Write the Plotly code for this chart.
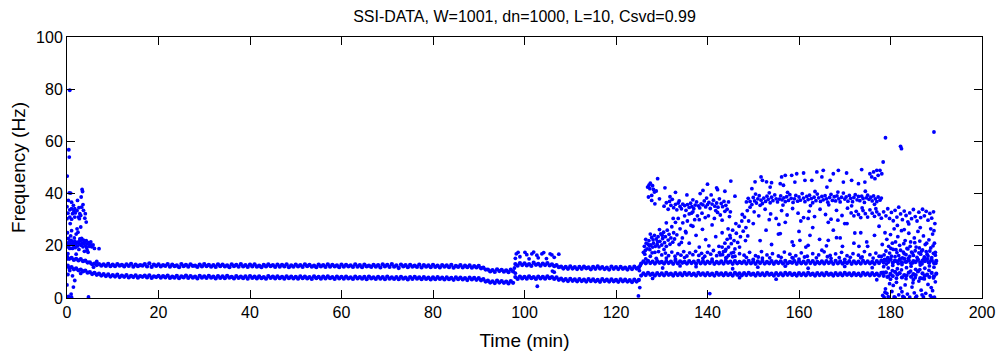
import plotly.graph_objects as go

# ---------------- data ----------------
# regular window times (min) for the two dominant modal bands
BAND_T = [0, 1, 2, 3, 4, 5, 6, 7, 8, 9,
          10, 11, 12, 13, 14, 15, 16, 17, 18, 19,
          20, 21, 22, 23, 24, 25, 26, 27, 28, 29,
          30, 31, 32, 33, 34, 35, 36, 37, 38, 39,
          40, 41, 42, 43, 44, 45, 46, 47, 48, 49,
          50, 51, 52, 53, 54, 55, 56, 57, 58, 59,
          60, 61, 62, 63, 64, 65, 66, 67, 68, 69,
          70, 71, 72, 73, 74, 75, 76, 77, 78, 79,
          80, 81, 82, 83, 84, 85, 86, 87, 88, 89,
          90, 91, 92, 93, 94, 95, 96, 97, 98, 99,
          100, 101, 102, 103, 104, 105, 106, 107, 108, 109,
          110, 111, 112, 113, 114, 115, 116, 117, 118, 119,
          120, 121, 122, 123, 124, 125, 126, 127, 128, 129,
          130, 131, 132, 133, 134, 135, 136, 137, 138, 139,
          140, 141, 142, 143, 144, 145, 146, 147, 148, 149,
          150, 151, 152, 153, 154, 155, 156, 157, 158, 159,
          160, 161, 162, 163, 164, 165, 166, 167, 168, 169,
          170, 171, 172, 173, 174, 175, 176, 177, 178, 179,
          180, 181, 182, 183, 184, 185, 186, 187, 188, 189, 190]

BAND_T_HALF = [0.5, 1.5, 2.5, 3.5, 4.5, 5.5, 6.5, 7.5, 8.5, 9.5,
               10.5, 11.5, 12.5, 13.5, 14.5, 15.5, 16.5, 17.5, 18.5, 19.5,
               20.5, 21.5, 22.5, 23.5, 24.5, 25.5, 26.5, 27.5, 28.5, 29.5,
               30.5, 31.5, 32.5, 33.5, 34.5, 35.5, 36.5, 37.5, 38.5, 39.5,
               40.5, 41.5, 42.5, 43.5, 44.5, 45.5, 46.5, 47.5, 48.5, 49.5,
               50.5, 51.5, 52.5, 53.5, 54.5, 55.5, 56.5, 57.5, 58.5, 59.5,
               60.5, 61.5, 62.5, 63.5, 64.5, 65.5, 66.5, 67.5, 68.5, 69.5,
               70.5, 71.5, 72.5, 73.5, 74.5, 75.5, 76.5, 77.5, 78.5, 79.5,
               80.5, 81.5, 82.5, 83.5, 84.5, 85.5, 86.5, 87.5, 88.5, 89.5,
               90.5, 91.5, 92.5, 93.5, 94.5, 95.5, 96.5, 97.5, 98.5, 99.5,
               100.5, 101.5, 102.5, 103.5, 104.5, 105.5, 106.5, 107.5, 108.5, 109.5,
               110.5, 111.5, 112.5, 113.5, 114.5, 115.5, 116.5, 117.5, 118.5, 119.5,
               120.5, 121.5, 122.5, 123.5, 124.5, 125.5, 126.5, 127.5, 128.5, 129.5,
               130.5, 131.5, 132.5, 133.5, 134.5, 135.5, 136.5, 137.5, 138.5, 139.5,
               140.5, 141.5, 142.5, 143.5, 144.5, 145.5, 146.5, 147.5, 148.5, 149.5,
               150.5, 151.5, 152.5, 153.5, 154.5, 155.5, 156.5, 157.5, 158.5, 159.5,
               160.5, 161.5, 162.5, 163.5, 164.5, 165.5, 166.5, 167.5, 168.5, 169.5,
               170.5, 171.5, 172.5, 173.5, 174.5, 175.5, 176.5, 177.5, 178.5, 179.5,
               180.5, 181.5, 182.5, 183.5, 184.5, 185.5, 186.5, 187.5, 188.5, 189.5]

# upper mode (Hz), two rows of estimates per band
UPPER_A = [15.8, 15.4, 15.0, 14.9, 14.3, 13.6, 13.2, 13.0, 12.9, 13.1,
           12.8, 13.0, 12.7, 12.9, 13.1, 12.8, 12.6, 13.0, 13.3, 12.8,
           12.9, 12.6, 13.0, 12.8, 12.5, 13.0, 12.7, 12.9, 12.4, 12.8,
           13.0, 12.7, 12.6, 12.9, 12.8, 12.5, 12.9, 12.7, 13.0, 12.6,
           12.8, 12.9, 12.4, 12.7, 12.9, 12.6, 12.8, 12.7, 12.9, 12.5,
           12.8, 12.6, 12.9, 12.7, 12.4, 12.8, 12.6, 12.9, 12.7, 12.5,
           12.8, 12.7, 12.5, 12.9, 12.6, 12.8, 12.4, 12.7, 12.6, 12.9,
           12.7, 13.0, 12.5, 12.8, 12.6, 12.7, 12.4, 12.8, 12.6, 12.5,
           12.7, 12.4, 12.6, 12.5, 12.7, 12.3, 12.6, 12.4, 12.5, 12.2,
           12.3, 11.6, 10.9, 10.7, 11.0, 10.8, 10.6, 10.9, 13.0, 13.4,
           13.3, 13.0, 13.5, 13.1, 13.2, 13.4, 12.9, 12.6, 12.0, 11.9,
           12.1, 11.8, 11.9, 12.0, 11.7, 11.9, 12.1, 11.8, 11.6, 12.0,
           11.8, 11.9, 11.6, 11.8, 12.0, 11.7, 14.0, 14.2, 13.9, 14.1,
           13.8, 14.1, 13.9, 14.2, 14.0, 13.8, 14.1, 13.9, 14.2, 14.0,
           13.9, 14.1, 13.8, 14.0, 14.2, 13.9, 14.1, 13.8, 14.0, 14.2,
           13.9, 14.0, 14.2, 13.8, 14.1, 13.9, 14.0, 14.2, 13.8, 14.1,
           14.0, 13.9, 14.2, 14.1, 13.8, 14.0, 14.1, 13.9, 14.2, 14.0,
           13.8, 14.1, 14.0, 13.9, 14.2, 14.0, 13.8, 14.1, 14.3, 14.5,
           14.8, 14.2, 14.6, 15.0, 14.4, 14.1, 14.7, 14.3, 14.9, 14.5, 14.2]

UPPER_B = [15.0, 14.6, 14.4, 14.1, 13.6, 12.9, 12.6, 12.4, 12.3, 12.2,
           12.2, 12.4, 12.1, 12.3, 12.0, 12.2, 12.4, 12.1, 11.9, 12.3,
           12.1, 12.3, 12.0, 12.2, 11.8, 12.2, 12.0, 12.3, 11.9, 12.1,
           12.2, 12.0, 11.9, 12.2, 12.1, 11.8, 12.2, 12.0, 12.1, 11.9,
           12.1, 12.0, 11.8, 12.1, 12.2, 11.9, 12.0, 12.1, 11.8, 12.0,
           12.1, 11.9, 12.2, 12.0, 11.8, 12.1, 11.9, 12.0, 12.1, 11.8,
           12.0, 12.1, 11.9, 12.0, 11.8, 12.1, 11.9, 12.0, 11.7, 12.1,
           11.9, 12.0, 11.5, 12.1, 11.8, 12.0, 11.9, 11.7, 12.0, 11.8,
           11.9, 11.7, 12.0, 11.8, 11.6, 11.9, 11.7, 11.8, 11.6, 11.7,
           11.4, 10.9, 10.2, 10.0, 10.3, 10.1, 9.9, 10.2, 12.4, 12.6,
           12.5, 12.3, 12.7, 12.4, 12.6, 12.5, 12.2, 11.8, 11.3, 11.2,
           11.3, 11.1, 11.2, 11.4, 11.0, 11.2, 11.3, 11.1, 10.9, 11.2,
           11.1, 11.2, 10.9, 11.1, 11.3, 13.2, 13.3, 13.4, 13.2, 13.5,
           13.2, 13.4, 13.1, 13.3, 13.5, 13.2, 13.4, 13.1, 13.3, 13.2,
           13.4, 13.1, 13.3, 13.2, 13.5, 13.1, 13.3, 13.4, 13.2, 13.3,
           13.1, 13.4, 13.2, 13.3, 13.1, 13.4, 13.2, 13.3, 13.5, 13.1,
           13.3, 13.2, 13.4, 13.1, 13.3, 13.2, 13.4, 13.1, 13.3, 13.2,
           13.4, 13.1, 13.3, 13.2, 13.4, 13.3, 13.1, 13.4, 13.6, 13.8,
           13.5, 14.0, 13.6, 13.9, 13.3, 13.8, 13.5, 14.1, 13.7, 13.4]

# lower mode (Hz)
LOWER_A = [12.2, 11.8, 11.3, 10.9, 10.5, 9.9, 9.6, 9.3, 9.1, 9.0,
           8.8, 8.9, 8.6, 8.8, 8.5, 8.7, 8.4, 8.6, 8.7, 8.3,
           8.5, 8.4, 8.6, 8.2, 8.5, 8.3, 8.6, 8.4, 8.2, 8.5,
           8.3, 8.5, 8.2, 8.4, 8.3, 8.5, 8.1, 8.4, 8.2, 8.3,
           8.4, 8.2, 8.3, 8.0, 8.4, 8.2, 8.3, 8.1, 8.3, 8.2,
           8.1, 8.3, 8.2, 8.0, 8.3, 8.1, 8.2, 8.3, 8.0, 8.2,
           8.1, 8.2, 7.9, 8.2, 8.0, 8.1, 8.2, 7.9, 8.1, 8.0,
           8.2, 7.9, 8.0, 8.1, 7.8, 8.0, 8.1, 7.9, 8.0, 7.8,
           7.9, 8.0, 7.8, 7.9, 7.7, 7.9, 7.8, 7.6, 7.8, 7.7,
           7.6, 7.2, 6.6, 6.4, 6.6, 6.5, 6.3, 6.5, 8.0, 8.2,
           8.1, 8.3, 8.0, 8.2, 8.1, 8.3, 8.0, 7.9, 7.4, 7.2,
           7.3, 7.1, 7.2, 7.0, 7.2, 7.1, 6.9, 7.2, 7.0, 7.1,
           6.9, 7.1, 7.0, 6.8, 7.0, 6.9, 9.4, 9.6, 9.3, 9.5,
           9.4, 9.6, 9.3, 9.5, 9.4, 9.6, 9.5, 9.3, 9.6, 9.4,
           9.5, 9.3, 9.6, 9.4, 9.5, 9.3, 9.6, 9.4, 9.5, 9.6,
           9.3, 9.5, 9.4, 9.6, 9.3, 9.5, 9.4, 9.6, 9.5, 9.3,
           9.5, 9.4, 9.6, 9.3, 9.5, 9.4, 9.6, 9.3, 9.5, 9.4,
           9.6, 9.4, 9.5, 9.3, 9.6, 9.4, 9.5, 9.3, 9.6, 9.8,
           9.2, 10.0, 9.5, 8.8, 9.7, 9.1, 10.2, 9.4, 8.9, 9.6, 9.3]

LOWER_B = [11.5, 11.0, 10.6, 10.2, 9.7, 9.2, 8.9, 8.6, 8.4, 8.2,
           8.2, 8.0, 8.1, 7.9, 8.0, 7.8, 8.1, 7.9, 7.7, 8.0,
           7.8, 7.9, 7.7, 7.8, 7.6, 7.9, 7.7, 7.8, 7.5, 7.8,
           7.7, 7.8, 7.5, 7.7, 7.6, 7.8, 7.5, 7.7, 7.6, 7.4,
           7.7, 7.5, 7.6, 7.4, 7.7, 7.5, 7.6, 7.4, 7.6, 7.5,
           7.4, 7.6, 7.5, 7.3, 7.6, 7.4, 7.5, 7.6, 7.3, 7.5,
           7.4, 7.5, 7.3, 7.5, 7.4, 7.2, 7.5, 7.3, 7.4, 7.2,
           7.4, 7.3, 7.2, 7.4, 7.1, 7.3, 7.4, 7.2, 7.3, 7.1,
           7.2, 7.3, 7.1, 7.2, 7.0, 7.2, 7.1, 6.9, 7.1, 7.0,
           6.8, 6.3, 5.9, 5.7, 5.9, 5.8, 5.6, 5.8, 7.3, 7.5,
           7.4, 7.6, 7.3, 7.5, 7.4, 7.6, 7.3, 7.0, 6.7, 6.5,
           6.6, 6.4, 6.5, 6.3, 6.5, 6.4, 6.2, 6.5, 6.3, 6.4,
           6.2, 6.4, 6.3, 6.1, 6.3, 8.6, 8.8, 8.9, 8.6, 8.8,
           8.7, 8.9, 8.6, 8.8, 8.7, 8.9, 8.8, 8.6, 8.9, 8.7,
           8.8, 8.6, 8.9, 8.7, 8.8, 8.6, 8.9, 8.7, 8.8, 8.9,
           8.6, 8.8, 8.7, 8.9, 8.6, 8.8, 8.7, 8.9, 8.8, 8.6,
           8.8, 8.7, 8.9, 8.6, 8.8, 8.7, 8.9, 8.6, 8.8, 8.7,
           8.9, 8.7, 8.8, 8.6, 8.9, 8.7, 8.8, 8.6, 8.5, 8.2,
           8.4, 9.0, 7.9, 8.6, 8.1, 8.8, 7.6, 8.5, 8.0, 8.3]

# scattered identifications, (time min, frequency Hz)
EARLY_PTS = [(0.6, 79.6), (0.4, 56.8), (0.5, 54.0), (0.05, 46.7), (0.5, 40.3), (3.3, 41.6), (3.1, 38.7),
             (0.3, 37.4), (1.0, 36.7), (0.6, 31.0), (0.0, 30.4), (1.7, 34.2), (1.2, 32.3), (2.3, 37.4),
             (2.8, 32.3), (2.7, 30.4), (3.4, 40.8), (3.6, 33.6), (4.0, 32.3), (4.2, 29.1), (2.5, 31.0),
             (1.7, 31.0), (0.7, 28.5), (1.0, 34.2), (1.5, 33.3), (3.2, 34.8), (0.8, 40.2), (0.0, 35.0),
             (0.1, 21.0), (0.3, 20.3), (0.5, 21.6), (0.7, 20.8), (0.9, 22.1), (1.1, 20.5), (1.3, 21.3),
             (1.5, 20.1), (1.7, 21.8), (1.9, 20.7), (2.1, 21.2), (2.3, 19.9), (2.5, 21.5), (2.7, 20.6),
             (2.9, 21.9), (3.1, 20.2), (3.3, 21.1), (3.5, 19.6), (3.7, 20.9), (3.9, 21.4), (4.1, 20.0),
             (4.3, 19.3), (4.5, 20.7), (4.7, 21.2), (4.9, 19.8), (5.1, 20.4), (5.4, 19.6), (5.7, 20.3),
             (6.0, 19.0), (7.0, 18.9), (4.4, 18.3), (3.8, 17.9), (4.6, 17.5), (1.6, 23.0), (2.0, 24.5),
             (2.4, 25.2), (0.8, 23.8), (3.2, 22.8), (1.2, 19.0), (0.4, 19.4), (2.6, 18.6), (1.0, 25.8),
             (2.2, 26.5), (3.0, 27.2), (0.2, 17.0), (0.3, 0.6), (1.4, 4.2), (1.7, 6.7), (4.7, 0.4),
             (0.9, 1.5), (1.2, 8.5), (0.2, 9.0), (0.6, 10.5), (3.4, 10.3), (1.0, 0.3), (0.0, 5.0),
             (6.5, 14.0), (5.8, 11.8), (2.0, 16.8), (3.0, 9.4),
             (0.2, 32.5), (0.6, 33.8), (1.0, 30.2), (1.4, 35.5), (1.8, 32.6), (2.2, 33.5), (2.6, 34.6),
             (3.0, 31.6), (3.5, 35.8), (3.9, 30.6), (0.3, 22.8), (0.6, 19.0), (1.8, 19.3), (2.8, 22.6),
             (3.6, 22.2), (4.2, 22.0), (5.2, 21.5), (0.1, 15.0), (0.2, 12.5), (0.1, 25.0)]

MID_PTS = [(98.2, 16.9), (98.6, 17.5), (100.1, 17.5), (100.5, 16.6), (101.6, 16.9), (102.0, 17.6),
           (102.7, 16.4), (103.8, 16.9), (104.2, 17.4), (105.6, 16.9), (106.0, 16.5), (98.0, 15.2),
           (99.0, 15.8), (101.0, 15.0), (103.0, 15.4), (104.8, 15.1), (106.5, 15.6), (102.8, 4.5),
           (106.1, 10.3), (106.5, 9.9), (98.0, 9.5), (97.8, 11.5), (107.5, 16.8),
           (124.9, 0.8), (125.2, 4.0), (125.1, 10.5), (125.3, 12.5), (140.5, 1.7)]

RISE_PTS = [(127.2, 43.2), (127.4, 41.9), (128.2, 41.6), (127.8, 39.3), (128.4, 40.6), (129.1, 45.7),
            (127.1, 38.7), (127.8, 37.4), (128.5, 36.1), (126.9, 42.5), (128.0, 43.0), (128.8, 41.0),
            (127.5, 44.0), (129.5, 38.0),
            (126.0, 17.5), (126.2, 19.8), (126.4, 18.2), (126.6, 21.0), (126.8, 18.8), (127.0, 20.6),
            (127.2, 22.0), (127.4, 18.5), (127.6, 20.3), (127.8, 23.2), (128.0, 19.5), (128.2, 21.0),
            (128.4, 24.0), (128.6, 19.8), (128.8, 22.6), (129.0, 20.5), (129.2, 23.5), (129.4, 19.6),
            (129.6, 21.7), (129.8, 24.6), (130.0, 20.3), (130.2, 22.8), (130.4, 25.2), (130.6, 21.2),
            (130.8, 23.5), (131.0, 19.8), (131.2, 26.0), (131.4, 22.2), (131.6, 24.4), (131.8, 20.6),
            (132.0, 23.0), (132.2, 27.3), (132.4, 21.4), (132.6, 25.0), (132.8, 22.6), (133.0, 29.0),
            (133.3, 24.2), (133.6, 30.5), (134.0, 26.5), (134.3, 21.3), (134.6, 28.8), (135.0, 31.5),
            (135.3, 25.0), (135.6, 29.5), (136.0, 32.2), (136.4, 27.8), (136.8, 33.0), (137.2, 30.0),
            (126.5, 22.5), (127.5, 24.5), (128.5, 17.5), (129.5, 26.2), (130.5, 18.6), (126.3, 16.8),
            (127.9, 17.3), (129.3, 17.8), (128.1, 22.3), (129.1, 21.6), (130.1, 24.0), (127.3, 19.9),
            (142.8, 16.5), (143.2, 19.5), (143.5, 17.8), (143.8, 21.0), (144.0, 18.6), (144.3, 22.5),
            (144.6, 19.5), (144.9, 24.0), (145.2, 20.8), (145.5, 26.0), (145.8, 22.0), (146.0, 18.8),
            (146.3, 24.8), (146.6, 21.3), (146.9, 27.5), (147.2, 23.5), (147.5, 29.5), (147.8, 25.6),
            (148.1, 31.0), (148.4, 27.0), (148.7, 33.5), (149.0, 29.5), (149.3, 34.8), (145.0, 23.0),
            (146.2, 28.5), (147.0, 19.5), (147.6, 32.0), (148.3, 22.0), (144.5, 26.5), (145.7, 17.5)]

BAND35_PTS = [(130.5, 35.2), (131.0, 36.5), (131.4, 34.0), (131.8, 38.8), (132.0, 35.5), (132.3, 37.8),
              (132.6, 34.6), (133.0, 35.9), (133.3, 33.8), (133.6, 36.4), (134.0, 35.1), (134.3, 34.2),
              (134.6, 36.0), (135.0, 35.4), (135.3, 33.6), (135.6, 35.8), (136.0, 34.7), (136.3, 36.3),
              (136.6, 35.0), (137.0, 34.2), (137.3, 35.6), (137.6, 36.8), (138.0, 35.3), (138.3, 34.5),
              (138.6, 36.1), (139.0, 35.7), (139.3, 37.2), (139.6, 34.9), (140.0, 35.8), (140.3, 36.6),
              (140.6, 34.3), (141.0, 36.0), (141.3, 37.5), (141.6, 35.2), (142.0, 36.4), (142.3, 34.8),
              (142.6, 38.0), (143.0, 36.2), (143.3, 35.0), (143.6, 37.0), (144.0, 35.5), (144.3, 34.0),
              (131.7, 37.0), (133.8, 37.2), (136.8, 37.6), (139.8, 38.3), (141.8, 33.5), (143.8, 33.2),
              (140.8, 39.5), (138.8, 32.5), (137.8, 31.5), (142.8, 31.8), (144.6, 36.8), (145.0, 33.0),
              (139.5, 30.8), (141.5, 30.5), (143.2, 29.8), (136.5, 32.5), (138.2, 30.0), (140.2, 31.5),
              (142.2, 32.8), (144.8, 31.2),
              (130.7, 42.2), (138.4, 40.0), (140.0, 43.6), (142.0, 42.2), (142.2, 41.5), (143.8, 40.9),
              (145.1, 44.8), (133.0, 40.5), (135.5, 39.5), (139.0, 41.2), (146.0, 39.0)]

BAND38_PTS = [(148.5, 36.8), (148.9, 38.2), (149.3, 37.0), (149.7, 35.8), (150.0, 38.5), (150.3, 37.2),
              (150.7, 36.4), (151.0, 38.0), (151.3, 39.2), (151.7, 37.5), (152.0, 36.2), (152.3, 38.3),
              (152.7, 37.0), (153.0, 39.0), (153.3, 37.8), (153.7, 36.5), (154.0, 38.6), (154.3, 37.3),
              (154.7, 39.5), (155.0, 38.0), (155.3, 36.8), (155.7, 37.9), (156.0, 39.1), (156.3, 37.6),
              (156.7, 38.4), (157.0, 36.9), (157.3, 38.8), (157.7, 37.4), (158.0, 39.6), (158.3, 38.2),
              (158.7, 36.6), (159.0, 38.0), (159.3, 39.3), (159.7, 37.1), (160.0, 38.7), (160.3, 37.5),
              (160.7, 40.0), (161.0, 38.3), (161.3, 36.9), (161.7, 38.9), (162.0, 37.7), (162.3, 39.4),
              (162.7, 38.1), (163.0, 36.5), (163.3, 38.6), (163.7, 37.3), (164.0, 39.8), (164.3, 38.4),
              (164.7, 37.0), (165.0, 38.9), (165.3, 37.6), (165.7, 39.2), (166.0, 38.0), (166.3, 36.7),
              (166.7, 38.5), (167.0, 39.7), (167.3, 37.4), (167.7, 38.8), (168.0, 37.2), (168.3, 39.1),
              (168.7, 38.0), (169.0, 36.8), (169.3, 38.6), (169.7, 40.2), (170.0, 37.9), (170.3, 38.7),
              (170.7, 37.1), (171.0, 39.3), (171.3, 38.2), (171.7, 36.9), (172.0, 38.5), (172.3, 39.6),
              (172.7, 37.6), (173.0, 38.9), (173.3, 37.3), (173.7, 39.0), (174.0, 38.1), (174.3, 36.6),
              (174.7, 38.4), (175.0, 39.4), (175.3, 37.8), (175.7, 38.6), (176.0, 37.2), (176.3, 39.1),
              (176.7, 38.0), (177.0, 36.9), (177.3, 38.7), (177.7, 37.5), (178.0, 38.3),
              (150.5, 39.8), (153.5, 40.3), (157.5, 40.5), (163.5, 40.8), (168.5, 40.6), (174.5, 40.9),
              (151.5, 35.5), (156.5, 35.6), (162.5, 35.4), (166.5, 35.7), (171.5, 35.3), (176.5, 35.9)]

SUB32_PTS = [(150.2, 33.0), (151.2, 31.5), (152.6, 34.0), (153.8, 32.2), (155.0, 30.5), (156.2, 33.5),
             (157.4, 31.8), (158.6, 34.3), (159.8, 32.5), (161.0, 30.8), (162.2, 33.2), (163.4, 31.2),
             (164.6, 34.0), (165.8, 32.0), (167.0, 30.2), (168.2, 33.6), (169.4, 31.6), (170.6, 34.4),
             (171.4, 32.6), (172.0, 31.5), (172.5, 33.2), (173.0, 32.0), (173.5, 30.8), (174.0, 33.5),
             (174.5, 32.3), (175.0, 31.0), (175.5, 33.8), (176.0, 32.5), (176.5, 31.3), (177.0, 33.0),
             (177.5, 32.0), (178.0, 30.6), (173.8, 34.5), (176.8, 34.2), (160.4, 29.5), (166.4, 29.0),
             (170.0, 28.5), (155.6, 28.2)]

TOP_PTS = [(157.0, 47.0), (158.4, 47.0), (159.5, 47.6), (161.0, 47.9), (159.1, 44.4), (161.3, 45.1),
           (162.8, 45.1), (163.9, 48.3), (165.0, 46.4), (166.8, 45.1), (167.5, 47.6), (168.6, 48.9),
           (169.7, 44.4), (170.4, 47.9), (171.5, 45.1), (173.7, 49.2), (173.0, 43.8), (174.4, 44.4),
           (175.5, 47.6), (175.9, 46.4), (176.3, 48.3), (177.0, 48.9), (177.3, 47.0), (177.7, 48.9),
           (176.6, 45.7), (178.1, 47.6), (165.3, 48.9), (155.9, 43.8), (166.1, 42.5),
           (150.4, 44.5), (151.7, 46.4), (152.0, 45.1), (152.9, 44.5), (154.0, 44.2), (156.2, 46.4),
           (156.6, 43.2), (149.7, 41.9), (153.7, 42.5),
           (178.9, 61.4), (182.2, 58.1), (182.4, 57.2), (189.5, 63.6), (178.4, 52.1)]

SHOULDER_PTS = [(130.0, 16.5), (130.8, 17.2), (131.5, 16.2), (132.2, 17.6), (132.9, 16.0), (133.5, 17.0),
                (134.2, 16.4), (134.8, 17.8), (135.5, 16.1), (136.1, 17.3), (136.8, 16.6), (137.4, 17.9),
                (138.1, 16.3), (138.7, 17.1), (139.4, 16.0), (140.0, 17.5), (140.7, 16.8), (141.3, 18.2),
                (142.0, 16.2), (142.6, 17.4), (143.3, 16.6), (143.9, 18.0), (144.6, 16.3), (145.2, 17.2),
                (146.0, 16.0), (147.0, 17.0), (148.0, 16.4), (149.2, 17.5), (150.5, 16.2), (151.8, 17.8),
                (153.0, 16.5), (154.2, 17.0), (155.5, 16.1), (156.8, 17.6), (158.0, 16.8), (159.3, 16.2),
                (160.5, 17.3), (161.8, 16.0), (163.0, 17.0), (164.3, 16.5), (165.5, 17.7), (166.8, 16.3),
                (168.0, 16.9), (169.3, 17.5), (170.5, 16.2), (171.8, 17.0), (173.0, 16.4), (174.3, 17.8),
                (175.5, 16.6), (176.8, 17.2), (177.5, 16.0),
                (131.0, 15.3), (135.0, 15.5), (139.0, 15.2), (144.0, 15.4), (152.0, 15.3), (158.5, 15.5),
                (167.0, 15.2), (173.5, 15.4),
                (130.2, 11.5), (137.5, 12.0), (145.5, 11.2), (151.0, 11.8), (162.0, 11.4), (170.0, 12.1),
                (176.0, 11.6), (134.0, 12.3), (157.0, 12.2),
                (128.0, 7.5), (147.0, 7.8), (155.0, 7.2), (177.0, 7.0),
                (126.5, 15.0), (127.5, 16.0), (128.8, 15.2), (144.2, 15.6), (145.5, 15.8),
                (148.5, 15.6), (151.1, 15.7), (153.6, 15.4), (156.1, 15.6), (158.7, 15.3), (161.2, 15.7),
                (163.8, 15.4), (166.2, 15.8), (168.8, 15.5), (171.2, 15.6), (173.8, 15.7), (176.2, 15.3),
                (178.0, 15.9), (133.0, 14.9), (141.0, 14.9), (150.0, 14.8), (160.0, 14.9), (170.0, 14.8)]

MIDSCAT_PTS = [(131.0, 28.8), (132.5, 30.5), (133.8, 20.5), (134.5, 23.0), (135.2, 25.5), (136.0, 21.0),
               (136.8, 27.5), (137.5, 24.0), (138.2, 19.5), (138.9, 26.3), (139.6, 22.4), (140.3, 20.0),
               (141.0, 28.0), (141.8, 23.5), (142.5, 19.8), (143.2, 25.0), (150.0, 28.5), (151.5, 22.0),
               (152.8, 26.0), (154.0, 20.5), (155.5, 24.5), (157.0, 29.0), (158.5, 21.5), (160.0, 25.5),
               (161.5, 19.5), (163.0, 27.0), (164.5, 22.5), (166.0, 20.0), (167.5, 26.0), (169.0, 23.0),
               (170.5, 28.5), (172.0, 21.0), (173.5, 25.0), (175.0, 19.8), (176.5, 24.0), (177.5, 27.5),
               (148.8, 23.8), (153.5, 30.0), (162.0, 30.5), (168.5, 29.8),
               (155.9, 24.7), (158.8, 20.2), (162.4, 24.0), (166.4, 22.1), (168.2, 23.1), (169.5, 19.8),
               (172.2, 24.9), (173.1, 19.8), (174.8, 21.5), (162.0, 20.2), (165.0, 18.3), (160.2, 22.1)]

LATE_PTS = [(178.5, 33.0), (179.0, 31.5), (179.4, 34.2), (179.8, 30.5), (180.2, 32.8), (180.6, 29.6),
            (181.0, 33.6), (181.4, 31.0), (181.8, 34.8), (182.2, 32.2), (182.6, 30.0), (183.0, 33.3),
            (183.4, 31.6), (183.8, 29.2), (184.2, 32.6), (184.6, 30.4), (185.0, 33.9), (185.4, 31.2),
            (185.8, 29.5), (186.2, 32.9), (186.6, 30.8), (187.0, 34.0), (187.4, 31.5), (187.8, 33.2),
            (188.2, 29.8), (188.6, 32.4), (189.0, 30.6), (189.4, 33.0), (189.7, 28.5),
            (181.5, 27.8), (184.0, 28.4), (186.5, 27.0), (188.8, 26.5), (183.0, 26.2),
            (178.8, 25.0), (179.2, 22.5), (179.6, 19.8), (180.0, 24.3), (180.4, 21.0), (180.8, 26.5),
            (181.2, 18.5), (181.6, 23.5), (182.0, 20.2), (182.4, 25.8), (182.8, 17.6), (183.2, 22.0),
            (183.6, 19.0), (184.0, 24.8), (184.4, 21.5), (184.8, 17.2), (185.2, 23.0), (185.6, 19.5),
            (186.0, 25.5), (186.4, 21.8), (186.8, 18.0), (187.2, 23.8), (187.6, 20.5), (188.0, 16.8),
            (188.4, 22.3), (188.8, 19.2), (189.2, 24.5), (189.6, 21.0), (189.8, 17.5), (189.5, 25.8),
            (178.6, 16.5), (179.0, 18.0), (179.4, 15.5), (179.8, 17.2), (180.2, 16.0), (180.6, 18.6),
            (181.0, 15.8), (181.4, 17.4), (181.8, 16.2), (182.2, 18.3), (182.6, 15.4), (183.0, 17.0),
            (183.4, 16.6), (183.8, 18.8), (184.2, 15.9), (184.6, 17.6), (185.0, 16.3), (185.4, 18.1),
            (185.8, 15.6), (186.2, 17.3), (186.6, 16.8), (187.0, 18.4), (187.4, 15.7), (187.8, 17.8),
            (188.2, 16.1), (188.6, 18.0), (189.0, 15.5), (189.4, 17.1), (189.8, 16.4),
            (178.5, 12.0), (179.5, 11.5), (180.5, 12.5), (181.5, 11.2), (182.5, 12.8), (183.5, 11.6),
            (184.5, 12.2), (185.5, 11.0), (186.5, 12.6), (187.5, 11.4), (188.5, 12.3), (189.5, 11.8),
            (178.3, 1.0), (178.6, 0.3), (178.9, 3.5), (179.2, 1.8), (179.5, 0.5), (179.8, 5.5),
            (180.3, 2.5), (180.8, 0.4), (181.3, 6.0), (181.8, 1.2), (182.2, 3.8), (182.7, 0.6),
            (183.2, 5.0), (183.7, 1.5), (184.2, 0.3), (184.7, 4.2), (185.2, 2.0), (185.7, 0.7),
            (186.2, 6.5), (186.7, 3.0), (187.2, 0.4), (187.7, 1.8), (188.2, 5.2), (188.7, 0.9),
            (189.2, 2.8), (189.6, 0.3), (189.8, 6.2), (185.0, 7.0), (180.0, 7.2), (187.0, 7.5),
            (178.2, 20.5), (178.7, 14.8), (179.1, 13.0), (179.7, 14.5), (180.1, 19.0), (180.9, 14.2),
            (181.1, 21.5), (181.7, 13.2), (182.1, 15.0), (182.9, 20.8), (183.3, 13.8), (183.9, 15.2),
            (184.3, 19.8), (184.9, 13.5), (185.3, 21.2), (185.9, 14.6), (186.3, 19.2), (186.9, 13.1),
            (187.3, 15.0), (187.9, 21.0), (188.3, 13.6), (188.9, 14.9), (189.3, 20.0), (189.9, 13.3),
            (178.4, 9.8), (179.3, 8.0), (180.4, 10.5), (181.3, 7.6), (182.4, 10.8), (183.4, 7.4),
            (184.4, 10.3), (185.4, 7.8), (186.4, 10.9), (187.4, 7.3), (188.4, 10.6), (189.4, 7.7),
            (178.8, 2.2), (180.6, 4.8), (182.5, 2.4), (184.9, 5.8), (186.9, 1.2), (188.9, 4.0),
            (181.0, 0.2), (183.0, 0.2), (185.5, 0.2), (189.0, 0.2)]

TITLE = "SSI-DATA, W=1001, dn=1000, L=10, Csvd=0.99"
X_LABEL = "Time (min)"
Y_LABEL = "Frequency (Hz)"
X_TICKS = [0, 20, 40, 60, 80, 100, 120, 140, 160, 180, 200]
Y_TICKS = [0, 20, 40, 60, 80, 100]

# ---------------- figure ----------------
BAND_DOT = dict(color="#0000FF", size=4.3, line=dict(width=0))
DOT = dict(color="#0000FF", size=3.8, line=dict(width=0))

fig = go.Figure()
band_sets = [(BAND_T, UPPER_A), (BAND_T_HALF, UPPER_B), (BAND_T, LOWER_A), (BAND_T_HALF, LOWER_B)]
for ts, fs in band_sets:
    fig.add_trace(go.Scatter(x=ts, y=fs, mode="markers", marker=BAND_DOT, showlegend=False,
                             hoverinfo="x+y"))

for grp in [EARLY_PTS, MID_PTS, RISE_PTS, BAND35_PTS, BAND38_PTS, SUB32_PTS, TOP_PTS,
            SHOULDER_PTS, MIDSCAT_PTS, LATE_PTS]:
    fig.add_trace(go.Scatter(x=[p[0] for p in grp], y=[p[1] for p in grp], mode="markers",
                             marker=DOT, showlegend=False, hoverinfo="x+y"))

axis_common = dict(showline=True, linecolor="black", linewidth=1, mirror="allticks",
                   ticks="inside", ticklen=8, tickcolor="black", tickwidth=1,
                   showgrid=False, zeroline=False, automargin=False,
                   tickfont=dict(size=16, color="black"))

fig.update_layout(
    width=998, height=351,
    margin=dict(l=67, r=16, t=37, b=53),
    paper_bgcolor="white", plot_bgcolor="white",
    font=dict(family="Liberation Sans, Arial, sans-serif", size=16, color="black"),
    title=dict(text=TITLE, x=0.5, xref="paper", xanchor="center",
               y=1 - 16 / 351, yref="container", yanchor="middle",
               font=dict(size=16, color="black")),
    xaxis=dict(range=[0, 200], tickvals=X_TICKS, title=dict(text=X_LABEL, standoff=13), **axis_common),
    yaxis=dict(range=[0, 100], tickvals=Y_TICKS, title=dict(text=Y_LABEL, standoff=5), **axis_common),
)

fig.write_html("out.html")
